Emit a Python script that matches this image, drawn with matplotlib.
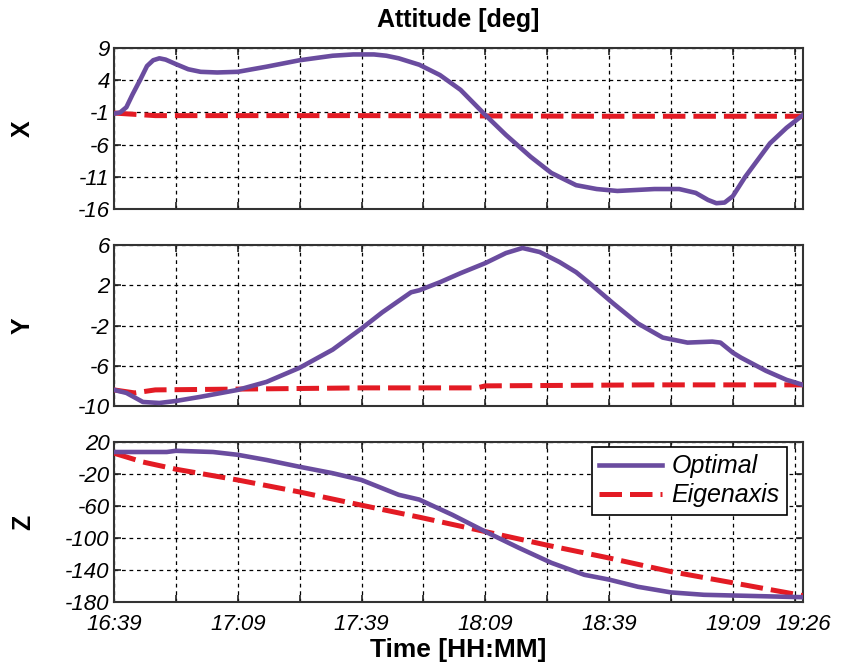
import numpy as np
import matplotlib
matplotlib.use('Agg')
import matplotlib.pyplot as plt

plt.rcParams['font.family'] = ['Liberation Sans', 'DejaVu Sans']
plt.rcParams['axes.unicode_minus'] = False

# minutes after 16:39
x_opt_t = [0, 1.5, 3, 4.5, 6.3, 8, 9.5, 11, 12.5, 15, 18, 21, 25, 30, 37, 45, 53, 58, 63, 66, 69,
           74, 79, 84, 90, 95, 101, 106, 112, 117, 122, 131, 137, 141, 144, 146, 148, 150, 153,
           159, 163, 167]
x_opt = [-1.2, -1.0, -0.2, 1.8, 4.0, 6.2, 7.1, 7.4, 7.2, 6.5, 5.7, 5.3, 5.2, 5.3, 6.1, 7.1, 7.8,
         8.0, 8.0, 7.8, 7.4, 6.4, 4.8, 2.5, -1.4, -4.5, -7.9, -10.4, -12.3, -12.9, -13.2, -12.9,
         -12.9, -13.5, -14.6, -15.1, -15.0, -14.0, -11.0, -5.8, -3.4, -1.4]
x_eig_t = [0, 10, 60, 120, 167]
x_eig = [-1.1, -1.5, -1.5, -1.6, -1.6]

y_opt_t = [0, 3, 7, 11, 15, 20.8, 30, 37, 45, 53, 60, 65, 72, 74, 79, 84, 90, 95, 99, 103.2,
           108, 112, 115, 121, 127, 133, 139, 145, 147, 150, 152, 158, 163, 167]
y_opt = [-8.4, -8.7, -9.6, -9.7, -9.5, -9.1, -8.4, -7.6, -6.2, -4.4, -2.3, -0.7, 1.3, 1.5, 2.3,
         3.2, 4.2, 5.2, 5.7, 5.3, 4.3, 3.3, 2.3, 0.2, -1.8, -3.2, -3.7, -3.6, -3.7, -4.7, -5.2,
         -6.5, -7.4, -7.9]
y_eig_t = [0, 5, 10, 60, 88, 90, 130, 167]
y_eig = [-8.4, -8.7, -8.4, -8.2, -8.2, -8.0, -7.9, -7.9]

z_opt_t = [0, 12.8, 15, 24, 30, 37, 45, 53, 60, 69, 74, 82, 90, 98, 106, 114, 120, 127, 135,
           143, 167]
z_opt = [7.5, 7.5, 9, 7.5, 4, -2.5, -11, -19, -27.5, -46, -52, -71, -92, -112, -131, -146, -152,
         -161, -168, -171, -174]
z_eig_t = [0, 7, 15, 30, 45, 60, 74, 90, 105, 120, 135, 150, 167]
z_eig = [6, -5, -14, -27.5, -42.5, -59, -74, -92, -109, -125, -142, -156, -172]

x_ticks = [0, 15, 30, 45, 60, 75, 90, 105, 120, 135, 150, 165, 167]
x_labels = ['16:39', '', '17:09', '', '17:39', '', '18:09', '', '18:39', '', '19:09', '', '19:26']

panels = [
    ('X', x_opt_t, x_opt, x_eig_t, x_eig, (-16, 9), [-16, -11, -6, -1, 4, 9]),
    ('Y', y_opt_t, y_opt, y_eig_t, y_eig, (-10, 6), [-10, -6, -2, 2, 6]),
    ('Z', z_opt_t, z_opt, z_eig_t, z_eig, (-180, 20), [-180, -140, -100, -60, -20, 20]),
]

W, H = 846, 668
fig = plt.figure(figsize=(W / 100, H / 100), dpi=100)
purple = '#6a4c9f'
red = '#e31b24'

tops = [48, 245, 442]
bottoms = [209, 406, 602]
left, right = 114, 803

for i, (name, ot, ov, et, ev, ylim, yt) in enumerate(panels):
    ax = fig.add_axes([left / W, 1 - bottoms[i] / H, (right - left) / W, (bottoms[i] - tops[i]) / H])
    ax.plot(ot, ov, color=purple, lw=3.3, label='Optimal', zorder=4,
            solid_joinstyle='round')
    ax.plot(et, ev, color=red, lw=3.6, dashes=(4.5, 1.6), label='Eigenaxis', zorder=3)
    ax.set_xlim(0, 167)
    ax.set_ylim(*ylim)
    ax.set_yticks(yt)
    ax.set_xticks(x_ticks)
    ax.grid(True, color='black', linestyle=(0, (3, 3)), linewidth=0.9)
    ax.tick_params(direction='in', top=True, right=True, length=5, width=1.2,
                   labelsize=16, pad=3, colors='#222222', labelcolor='black')
    ax.tick_params(axis='x', pad=8.5)
    for lab in ax.get_yticklabels():
        lab.set_fontstyle('italic')
    if i == 2:
        ax.set_xticklabels(x_labels)
        for lab in ax.get_xticklabels():
            lab.set_fontstyle('italic')
        leg = ax.legend(loc='upper right', bbox_to_anchor=(0.977, 0.969), borderaxespad=0,
                        fancybox=False, framealpha=1, edgecolor='black', handlelength=2.5,
                        prop={'size': 18, 'style': 'italic'}, borderpad=0.3,
                        labelspacing=0.2, handletextpad=0.4)
        leg.get_frame().set_linewidth(1.2)
    else:
        ax.set_xticklabels([])
    for s in ax.spines.values():
        s.set_color('#333333')
        s.set_linewidth(1.5)
    fig.text(23 / W, 1 - (tops[i] + bottoms[i]) / 2 / H, name, rotation=90,
             ha='center', va='center', fontsize=18, fontweight='bold')

fig.text((left + right) / 2 / W, 1 - 20 / H, 'Attitude [deg]', ha='center', va='center',
         fontsize=18, fontweight='bold')
fig.text((left + right) / 2 / W, 1 - 650 / H, 'Time [HH:MM]', ha='center', va='center',
         fontsize=19, fontweight='bold')

fig.savefig('out.png', dpi=100)
